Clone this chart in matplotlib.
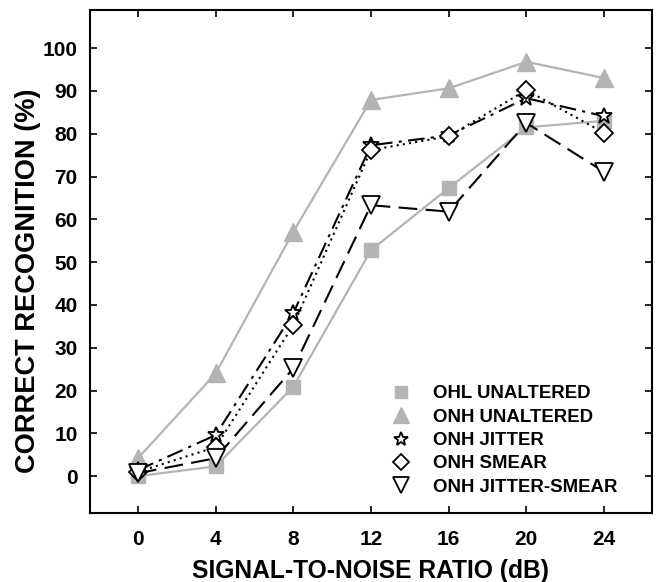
import matplotlib
matplotlib.use("Agg")
import matplotlib.pyplot as plt

plt.rcParams['font.family'] = ['Liberation Sans', 'DejaVu Sans']
plt.rcParams['font.weight'] = 'bold'

snr = [0, 4, 8, 12, 16, 20, 24]
ohl_unaltered = [0, 2.3, 20.9, 52.8, 67.3, 81.5, 83]
onh_unaltered = [4.2, 24, 57.1, 87.9, 90.6, 96.8, 93]
onh_jitter = [1.4, 9.6, 38.1, 77.3, 79.6, 88.3, 84.1]
onh_smear = [1, 6.8, 35.3, 76.2, 79.4, 90.2, 80.2]
onh_jitter_smear = [0.7, 4.2, 25.2, 63.3, 61.8, 82.5, 71.1]
labels = ["OHL UNALTERED", "ONH UNALTERED", "ONH JITTER", "ONH SMEAR", "ONH JITTER-SMEAR"]
yticks = [0, 10, 20, 30, 40, 50, 60, 70, 80, 90, 100]

fig = plt.figure(figsize=(6.56, 5.82), dpi=100)
ax = fig.add_axes([90/656, 69/582, 562/656, 503/582])

grey = '#b4b4b4'
ax.plot(snr, ohl_unaltered, color=grey, lw=1.6, marker='s', ms=10, mec=grey, mfc=grey, label=labels[0])
ax.plot(snr, onh_unaltered, color=grey, lw=1.6, marker='^', ms=13, mec=grey, mfc=grey, label=labels[1])
ax.plot(snr, onh_jitter, color='black', lw=1.5, ls=(0, (8, 3, 1.5, 3)), marker='*', ms=12,
        mfc='white', mec='black', mew=1.3, label=labels[2])
ax.plot(snr, onh_smear, color='black', lw=1.5, ls=(0, (1, 2)), marker='D', ms=9.5,
        mfc='white', mec='black', mew=1.3, label=labels[3])
ax.plot(snr, onh_jitter_smear, color='black', lw=1.5, ls=(0, (9, 4)), marker='v', ms=13,
        mfc='white', mec='black', mew=1.3, label=labels[4])

ax.set_xlim(-2.47, 26.47)
ax.set_ylim(-8.6, 108.9)
ax.set_xticks(snr)
ax.set_yticks(yticks)
ax.tick_params(direction='in', length=5, width=1.2, labelsize=15, top=True, right=True)
ax.tick_params(axis='x', pad=12)
ax.tick_params(axis='y', pad=9)
for lab in ax.get_xticklabels() + ax.get_yticklabels():
    lab.set_fontweight('bold')
for s in ax.spines.values():
    s.set_linewidth(1.5)

ax.set_xlabel("SIGNAL-TO-NOISE RATIO (dB)", fontsize=17.7, fontweight='bold')
ax.set_ylabel("CORRECT RECOGNITION (%)", fontsize=19.6, fontweight='bold')
ax.xaxis.set_label_coords(0.5, -0.0915)
ax.yaxis.set_label_coords(-0.087, 0.462)

leg = ax.legend(loc='center left', frameon=False, prop={'size': 13.4, 'weight': 'bold'},
                handlelength=0.0, handletextpad=1.72, labelspacing=0.34,
                borderpad=0, borderaxespad=0,
                bbox_to_anchor=(401/656, (582-440.5)/582), bbox_transform=fig.transFigure,
                markerscale=0.85)

fig.savefig("out.png", dpi=100)
